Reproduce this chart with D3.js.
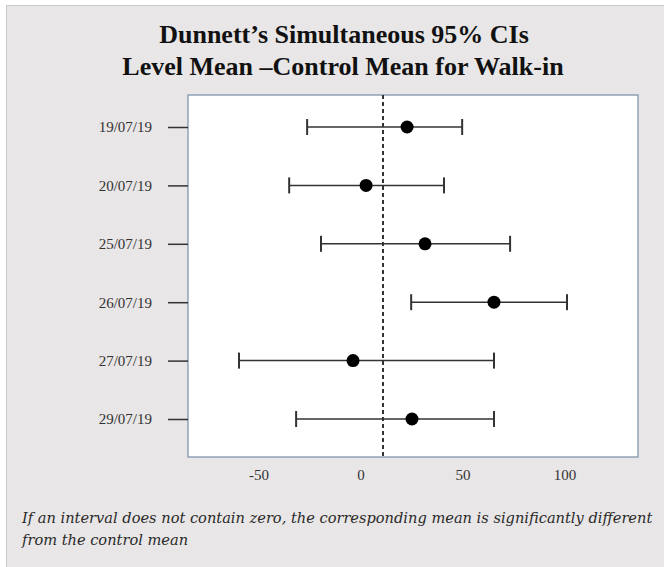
<!DOCTYPE html>
<html>
<head>
<meta charset="utf-8">
<script src="https://cdn.jsdelivr.net/npm/d3@7"></script>
<style>
  body { margin: 0; background: #fff; }
  svg { display: block; }
</style>
</head>
<body>
<script>
// Dunnett's simultaneous 95% CIs, level mean - control mean
var levels = ["19/07/19", "20/07/19", "25/07/19", "26/07/19", "27/07/19", "29/07/19"];
var lower  = [-26.2, -35.0, -19.4, 24.8, -59.6, -31.6];
var means  = [22.8, 2.7, 31.6, 65.4, -3.7, 25.2];
var upper  = [49.8, 40.9, 73.3, 101.2, 65.4, 65.4];
var xTicks = [-50, 0, 50, 100];
var controlLine = 11;

var W = 664, H = 567;
var box = {left: 188, right: 638, top: 95, bottom: 457};

var svg = d3.select("body").append("svg")
    .attr("width", W)
    .attr("height", H);

// outer panel
svg.append("rect")
    .attr("x", 6.5).attr("y", 5.5)
    .attr("width", W).attr("height", H)
    .attr("fill", "#e8e6e6")
    .attr("stroke", "#c9c9c9");

var x = d3.scaleLinear()
    .domain([-84.6, 136])
    .range([box.left, box.right]);

var y = d3.scalePoint()
    .domain(levels)
    .range([127, 419]);

var rows = levels.map(function(d, i) {
  return {level: d, lo: lower[i], mean: means[i], hi: upper[i]};
});

// titles
var title = svg.append("g")
    .attr("font-family", "'Liberation Serif', 'Times New Roman', serif")
    .attr("font-weight", "bold")
    .attr("font-size", 26)
    .attr("fill", "#111")
    .attr("text-anchor", "middle");
title.append("text").attr("x", 344).attr("y", 43).text("Dunnett\u2019s Simultaneous 95% CIs");
title.append("text").attr("x", 343).attr("y", 75).text("Level Mean \u2013Control Mean for Walk-in");

// plot area
svg.append("rect")
    .attr("x", box.left).attr("y", box.top)
    .attr("width", box.right - box.left)
    .attr("height", box.bottom - box.top)
    .attr("fill", "#fff")
    .attr("stroke", "#8fa2b6")
    .attr("stroke-width", 1.5);

// reference line
svg.append("line")
    .attr("x1", x(controlLine)).attr("x2", x(controlLine))
    .attr("y1", box.top).attr("y2", box.bottom)
    .attr("stroke", "#333")
    .attr("stroke-width", 2)
    .attr("stroke-dasharray", "4,3");

// y axis
var yAxis = svg.append("g")
    .attr("transform", "translate(" + box.left + ",0)")
    .call(d3.axisLeft(y).tickSize(20).tickPadding(16));
yAxis.select(".domain").remove();
yAxis.selectAll(".tick line").attr("stroke", "#333").attr("stroke-width", 1.5);
yAxis.selectAll(".tick text")
    .attr("font-family", "'Liberation Serif', 'Times New Roman', serif")
    .attr("font-size", 15)
    .attr("fill", "#333");

// x axis (labels only)
var xAxis = svg.append("g")
    .attr("transform", "translate(0," + box.bottom + ")")
    .call(d3.axisBottom(x).tickValues(xTicks).tickSize(0).tickPadding(12)
      .tickFormat(function(d) { return String(d); }));
xAxis.select(".domain").remove();
xAxis.selectAll(".tick text")
    .attr("font-family", "'Liberation Serif', 'Times New Roman', serif")
    .attr("font-size", 15)
    .attr("fill", "#333");

// intervals
var g = svg.append("g");

g.selectAll(".ci")
  .data(rows)
  .enter().append("line")
    .attr("class", "ci")
    .attr("x1", function(d) { return x(d.lo); })
    .attr("x2", function(d) { return x(d.hi); })
    .attr("y1", function(d) { return y(d.level); })
    .attr("y2", function(d) { return y(d.level); })
    .attr("stroke", "#333")
    .attr("stroke-width", 1.5);

["lo", "hi"].forEach(function(k) {
  g.selectAll(".cap-" + k)
    .data(rows)
    .enter().append("line")
      .attr("class", "cap-" + k)
      .attr("x1", function(d) { return x(d[k]); })
      .attr("x2", function(d) { return x(d[k]); })
      .attr("y1", function(d) { return y(d.level) - 8; })
      .attr("y2", function(d) { return y(d.level) + 8; })
      .attr("stroke", "#333")
      .attr("stroke-width", 2);
});

g.selectAll("circle")
  .data(rows)
  .enter().append("circle")
    .attr("cx", function(d) { return x(d.mean); })
    .attr("cy", function(d) { return y(d.level); })
    .attr("r", 6.5)
    .attr("fill", "#000");

// footnote
var note = svg.append("g")
    .attr("font-family", "'DejaVu Serif', serif")
    .attr("font-style", "italic")
    .attr("font-size", 14.6)
    .attr("fill", "#2a2a2a");
note.append("text").attr("x", 22).attr("y", 523)
    .text("If an interval does not contain zero, the corresponding mean is significantly different");
note.append("text").attr("x", 22).attr("y", 545)
    .text("from the control mean");
</script>
</body>
</html>
